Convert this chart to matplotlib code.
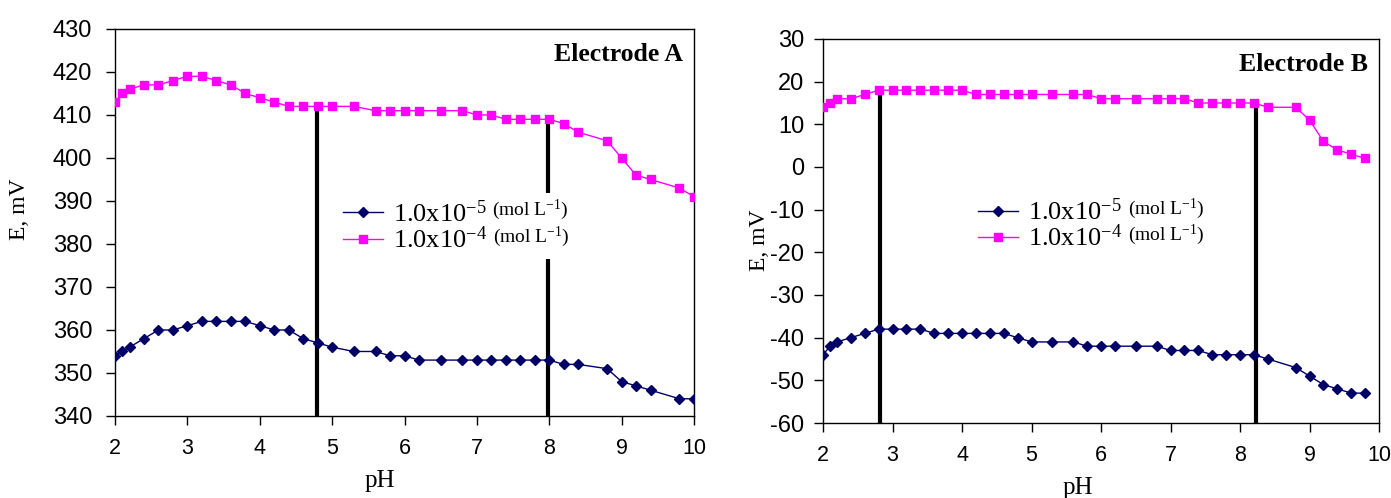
import matplotlib
matplotlib.use("Agg")
from matplotlib import pyplot as plt
from matplotlib.patches import Rectangle
from matplotlib.transforms import Bbox

plt.rcParams['font.family'] = ['Liberation Sans', 'DejaVu Sans']
plt.rcParams['mathtext.fontset'] = 'custom'
plt.rcParams['mathtext.rm'] = 'Liberation Serif'
plt.rcParams['mathtext.it'] = 'Liberation Serif:italic'
plt.rcParams['axes.unicode_minus'] = False

# pH values (same grid for both series on each electrode)
ph_a = [2.0, 2.1, 2.2, 2.4, 2.6, 2.8, 3.0, 3.2, 3.4, 3.6, 3.8, 4.0, 4.2, 4.4, 4.6, 4.8,
        5.0, 5.3, 5.6, 5.8, 6.0, 6.2, 6.5, 6.8, 7.0, 7.2, 7.4, 7.6, 7.8, 8.0, 8.2, 8.4,
        8.8, 9.0, 9.2, 9.4, 9.8, 10.0]
ph_b = [2.0, 2.1, 2.2, 2.4, 2.6, 2.8, 3.0, 3.2, 3.4, 3.6, 3.8, 4.0, 4.2, 4.4, 4.6, 4.8,
        5.0, 5.3, 5.6, 5.8, 6.0, 6.2, 6.5, 6.8, 7.0, 7.2, 7.4, 7.6, 7.8, 8.0, 8.2, 8.4,
        8.8, 9.0, 9.2, 9.4, 9.6, 9.8]

# electrode A, mV
ea_1e5 = [354, 355, 356, 358, 360, 360, 361, 362, 362, 362, 362, 361, 360, 360, 358, 357,
          356, 355, 355, 354, 354, 353, 353, 353, 353, 353, 353, 353, 353, 353, 352, 352,
          351, 348, 347, 346, 344, 344]
ea_1e4 = [413, 415, 416, 417, 417, 418, 419, 419, 418, 417, 415, 414, 413, 412, 412, 412,
          412, 412, 411, 411, 411, 411, 411, 411, 410, 410, 409, 409, 409, 409, 408, 406,
          404, 400, 396, 395, 393, 391]

# electrode B, mV
eb_1e5 = [-44, -42, -41, -40, -39, -38, -38, -38, -38, -39, -39, -39, -39, -39, -39, -40,
          -41, -41, -41, -42, -42, -42, -42, -42, -43, -43, -43, -44, -44, -44, -44, -45,
          -47, -49, -51, -52, -53, -53]
eb_1e4 = [14, 15, 16, 16, 17, 18, 18, 18, 18, 18, 18, 18, 17, 17, 17, 17,
          17, 17, 17, 17, 16, 16, 16, 16, 16, 16, 15, 15, 15, 15, 15, 14,
          14, 11, 6, 4, 3, 2]

# working pH range limits (vertical bars)
range_a = [4.79, 7.98]
range_a_top = [412, 409]
range_b = [2.82, 8.23]
range_b_top = [18, 15]

labels = ["1.0x10$^{-5}$", "1.0x10$^{-4}$"]
unit = "(mol L$^{-1}$)"

blue = "#000066"
pink = "#ff00ff"
serif = ['Liberation Serif', 'DejaVu Serif']

fig = plt.figure(figsize=(13.91, 4.98), dpi=100)
ax1 = fig.add_axes([0.0827, 0.1647, 0.4162, 0.7771])
ax2 = fig.add_axes([0.5917, 0.1506, 0.3997, 0.7711])

panels = [
    (ax1, ph_a, ea_1e5, ea_1e4, range_a, range_a_top, (340, 430), "Electrode A",
     (0.394, 0.558), -0.147, 0.535, 10),
    (ax2, ph_b, eb_1e5, eb_1e4, range_b, range_b_top, (-60, 30), "Electrode B",
     (0.279, 0.585), -0.095, 0.477, 7),
]

extras = []
for ax, ph, s1, s2, rx, rtop, ylim, name, legpos, ylx, yly, ypad in panels:
    ax.plot(ph, s1, color=blue, marker='D', markersize=5, lw=1, label=labels[0], zorder=3)
    ax.plot(ph, s2, color=pink, marker='s', markersize=5.5, lw=1, label=labels[1], zorder=3)
    ax.vlines(rx, ylim[0], rtop, color='black', lw=3, zorder=2)
    ax.set_xlim(2, 10)
    ax.set_ylim(*ylim)
    ax.set_xticks(range(2, 11))
    ax.set_yticks(range(ylim[0], ylim[1] + 1, 10))
    ax.tick_params(axis='x', direction='out', length=6.5, width=1, labelsize=15.5, pad=9)
    ax.tick_params(axis='y', direction='out', length=6.5, width=1, labelsize=17, pad=ypad)
    for sp in ax.spines.values():
        sp.set_linewidth(1)
    ax.set_xlabel("pH", family=serif, fontsize=18)
    ax.xaxis.set_label_coords(0.458, -0.14)
    ax.set_ylabel("E, mV", family=serif, fontsize=17)
    ax.yaxis.set_label_coords(ylx, yly)
    ax.text(0.981, 0.933, name, transform=ax.transAxes, ha='right', va='center',
            family=serif, fontsize=18.5, fontweight='bold')
    leg = ax.legend(loc='upper left', bbox_to_anchor=legpos, frameon=False,
                    prop={'family': serif, 'size': 19}, borderpad=0, borderaxespad=0,
                    handlelength=1.5, handletextpad=0.4, labelspacing=0.0)
    leg.set_zorder(6)
    anns = []
    for t in leg.get_texts():
        a = ax.annotate(unit, xy=(1, 0), xycoords=t, xytext=(4, 3),
                        textcoords='offset points', ha='left', va='bottom',
                        family=serif, fontsize=14, zorder=7)
        anns.append(a)
    extras.append((ax, leg, anns))

fig.canvas.draw()
renderer = fig.canvas.get_renderer()
for ax, leg, anns in extras:
    bb = Bbox.union([leg.get_window_extent(renderer)] +
                    [a.get_window_extent(renderer) for a in anns])
    bb = bb.expanded(1.03, 1.2)
    bb = bb.transformed(ax.transAxes.inverted())
    ax.add_patch(Rectangle((bb.x0, bb.y0), bb.width, bb.height, transform=ax.transAxes,
                           facecolor='white', edgecolor='none', zorder=4))

fig.savefig("out.png", dpi=100)
